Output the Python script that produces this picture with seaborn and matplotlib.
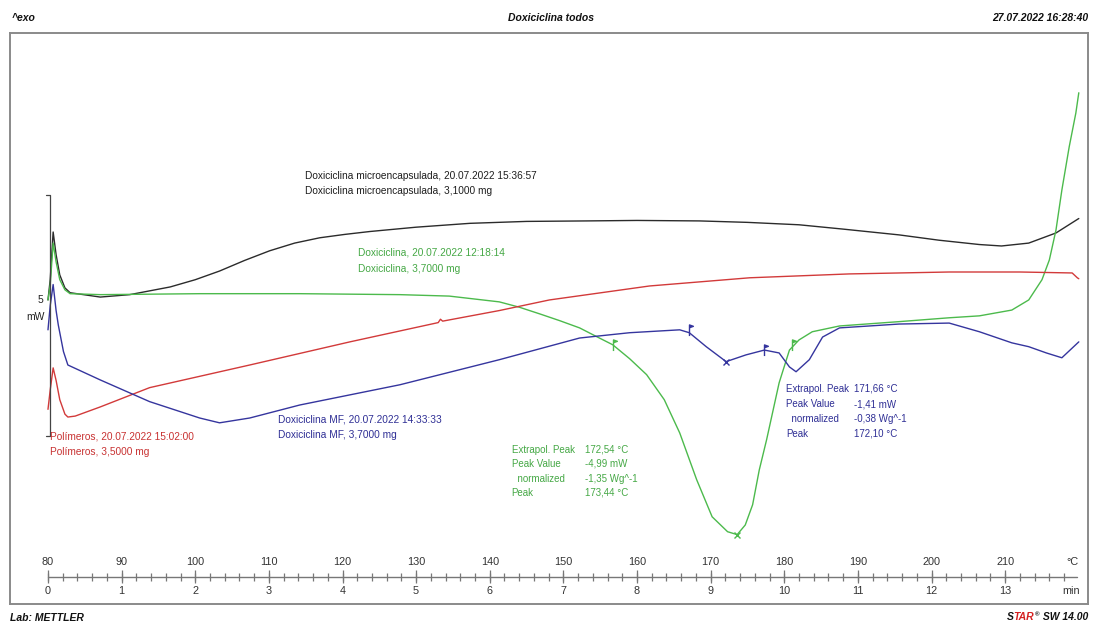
import numpy as np
import pandas as pd
import matplotlib
matplotlib.use("Agg")
import matplotlib.pyplot as plt
from matplotlib.path import Path
import seaborn as sns

sns.set_style("white")
plt.rcParams['font.family'] = ['Liberation Sans', 'DejaVu Sans']

# curvas DSC: temperatura (°C) y flujo de calor (mW, desplazado)
black_t = [80.0, 80.3, 80.7, 81.1, 81.6, 82.3, 83.0, 87.1, 91.1, 96.6, 100.0, 103.3, 106.7, 110.1,
           113.5, 116.9, 120.3, 123.7, 130.0, 137.3, 145.0, 153.1, 160.0, 168.5, 175.0, 182.0,
           188.0, 195.6, 201.0, 206.5, 209.5, 213.2, 216.9, 220.0]
black_hf = [2.82, 3.24, 4.23, 3.76, 3.34, 3.07, 2.97, 2.88, 2.93, 3.09, 3.24, 3.42, 3.64, 3.84,
            4.00, 4.11, 4.18, 4.24, 4.33, 4.41, 4.45, 4.46, 4.47, 4.46, 4.43, 4.38,
            4.29, 4.17, 4.06, 3.97, 3.94, 4.00, 4.21, 4.51]

green_t = [80.0, 80.3, 80.7, 81.1, 81.6, 82.3, 83.0, 87.1, 100.6, 114.2, 127.8, 134.5, 141.3, 144.0,
           146.8, 149.5, 152.2, 154.5, 156.7, 159.0, 161.3, 163.7, 165.8, 168.1, 170.2, 172.3,
           173.6, 174.7, 175.7, 176.6, 177.6, 179.3, 180.7, 182.0, 183.8, 187.5, 195.6, 202.4,
           206.5, 210.9, 213.2, 215.0, 216.0, 216.9, 217.7, 218.7, 219.6, 220.0]
green_hf = [2.82, 3.13, 4.00, 3.61, 3.24, 3.03, 2.95, 2.93, 2.95, 2.95, 2.93, 2.90, 2.78, 2.67,
            2.53, 2.39, 2.24, 2.06, 1.89, 1.60, 1.27, 0.75, 0.06, -0.91, -1.68, -1.99,
            -2.05, -1.85, -1.43, -0.71, -0.08, 1.10, 1.78, 1.99, 2.16, 2.28, 2.37, 2.45,
            2.49, 2.61, 2.82, 3.24, 3.65, 4.27, 5.10, 6.00, 6.70, 7.12]

red_t = [80.0, 80.3, 80.7, 81.1, 81.6, 82.3, 82.7, 83.7, 87.1, 93.8, 107.4, 121.0, 133.0, 133.3,
         133.6, 141.3, 148.1, 161.7, 175.3, 188.8, 202.4, 212.0, 219.1, 219.8, 220.0]
red_hf = [0.55, 0.95, 1.41, 1.15, 0.75, 0.45, 0.39, 0.41, 0.60, 1.00, 1.47, 1.95, 2.35, 2.42,
          2.38, 2.60, 2.82, 3.11, 3.28, 3.36, 3.40, 3.40, 3.38, 3.28, 3.26]

blue_t = [80.0, 80.3, 80.7, 81.1, 81.4, 82.1, 82.7, 87.1, 93.8, 100.6, 103.3, 107.4, 114.2, 127.8,
          141.3, 152.2, 159.0, 165.8, 167.1, 169.4, 172.1, 174.8, 177.3, 179.3, 180.7, 181.6,
          183.4, 185.2, 187.5, 195.6, 202.4, 206.5, 210.9, 213.2, 215.6, 217.7, 220.0]
blue_hf = [2.2, 2.7, 3.14, 2.6, 2.3, 1.75, 1.47, 1.16, 0.71, 0.37, 0.27, 0.37, 0.64, 1.06,
           1.58, 2.03, 2.14, 2.20, 2.14, 1.85, 1.54, 1.68, 1.78, 1.72, 1.43, 1.33,
           1.58, 2.05, 2.24, 2.32, 2.34, 2.16, 1.93, 1.85, 1.72, 1.62, 1.95]

# límites de integración (banderas) y picos (x)
green_flags_t = [156.7, 181.1]
green_flags_hf = [1.89, 1.89]
green_peak = (173.6, -2.05)
blue_flags_t = [167.1, 177.3]
blue_flags_hf = [2.20, 1.78]
blue_peak = (172.1, 1.54)

names = ["microencapsulada", "Doxiciclina", "Polimeros", "MF"]
colors = {"microencapsulada": "#2b2b2b", "Doxiciclina": "#4cba4c",
          "Polimeros": "#d23a3a", "MF": "#35359e"}
txt_green = "#45a845"
txt_blue = "#2f2f95"
txt_red = "#c83232"

frames = []
for n, t, hf in zip(names, [black_t, green_t, red_t, blue_t], [black_hf, green_hf, red_hf, blue_hf]):
    frames.append(pd.DataFrame({"T": t, "HF": hf, "curva": n}))
df = pd.concat(frames, ignore_index=True)

temp_ticks = list(range(80, 220, 10))
min_ticks = list(range(0, 14))

fig = plt.figure(figsize=(10.94, 6.26), dpi=100)
ax = fig.add_axes([10 / 1094, 1 - 604 / 626, 1078 / 1094, 571 / 626])

sns.lineplot(data=df, x="T", y="HF", hue="curva", palette=colors, estimator=None,
             sort=False, legend=False, lw=1.0, ax=ax)

# marcadores
flag = Path([(0, -1), (0, 1), (0.7, 0.75), (0, 0.5)],
            [Path.MOVETO, Path.LINETO, Path.LINETO, Path.LINETO])
ax.plot(green_flags_t, green_flags_hf, ls="none", marker=flag, ms=8, color=colors["Doxiciclina"], mew=1)
ax.plot(blue_flags_t, blue_flags_hf, ls="none", marker=flag, ms=8, color=colors["MF"], mew=1)
ax.plot(*green_peak, marker="x", ms=5, color=colors["Doxiciclina"], mew=1)
ax.plot(*blue_peak, marker="x", ms=5, color=colors["MF"], mew=1)

ax.set_xlim(74.84, 221.25)
ax.set_ylim(-3.49, 8.36)
ax.set_xticks([])
ax.set_yticks([])
ax.set_xlabel("")
ax.set_ylabel("")
for s in ax.spines.values():
    s.set_color("#8a8a8a")
    s.set_linewidth(1.4)

# barra de escala 5 mW
ax.plot([79.75, 80.27, 80.27, 79.75], [5, 5, 0, 0], color="#444444", lw=0.9)
ax.text(79.4, 2.82, "5", ha="right", va="center", fontsize=7.5, color="#222222")
ax.text(79.6, 2.47, "mW", ha="right", va="center", fontsize=7.5, color="#222222")

# eje de temperatura / tiempo
ax_y = -2.925
ax.plot([80, 219.8], [ax_y, ax_y], color="#777777", lw=1.0)
minor = np.arange(80, 220, 2)
ax.vlines(minor, ax_y - 0.083, ax_y + 0.083, color="#777777", lw=0.9)
ax.vlines(temp_ticks, ax_y - 0.135, ax_y + 0.135, color="#777777", lw=0.9)
for t, m in zip(temp_ticks, min_ticks):
    ax.text(t, -2.61, str(t), ha="center", va="center", fontsize=7.8, color="#333333")
    ax.text(t, -3.22, str(m), ha="center", va="center", fontsize=7.8, color="#333333")
ax.text(220.0, -2.61, "°C", ha="right", va="center", fontsize=7.8, color="#333333")
ax.text(220.2, -3.22, "min", ha="right", va="center", fontsize=7.8, color="#333333")

# etiquetas de curvas
fs = 7.3
ax.text(114.9, 5.39, "Doxiciclina microencapsulada, 20.07.2022 15:36:57", fontsize=fs, color="#1e1e1e", va="center")
ax.text(114.9, 5.08, "Doxiciclina microencapsulada, 3,1000 mg", fontsize=fs, color="#1e1e1e", va="center")
ax.text(122.1, 3.80, "Doxiciclina, 20.07.2022 12:18:14", fontsize=fs, color=txt_green, va="center")
ax.text(122.1, 3.46, "Doxiciclina, 3,7000 mg", fontsize=fs, color=txt_green, va="center")
ax.text(111.2, 0.33, "Doxiciclina MF, 20.07.2022 14:33:33", fontsize=fs, color=txt_blue, va="center")
ax.text(111.2, 0.02, "Doxiciclina MF, 3,7000 mg", fontsize=fs, color=txt_blue, va="center")
ax.text(80.3, -0.02, "Polímeros, 20.07.2022 15:02:00", fontsize=fs, color=txt_red, va="center")
ax.text(80.3, -0.33, "Polímeros, 3,5000 mg", fontsize=fs, color=txt_red, va="center")

fa = 7.0
green_lab = ["Extrapol. Peak", "Peak Value", "  normalized", "Peak"]
green_val = ["172,54 °C", "-4,99 mW", "-1,35 Wg^-1", "173,44 °C"]
blue_val = ["171,66 °C", "-1,41 mW", "-0,38 Wg^-1", "172,10 °C"]
for i, yy in enumerate([-0.29, -0.58, -0.89, -1.18]):
    ax.text(142.96, yy, green_lab[i], fontsize=fa, color=txt_green, va="center")
    ax.text(152.87, yy, green_val[i], fontsize=fa, color=txt_green, va="center")
for i, yy in enumerate([0.98, 0.66, 0.35, 0.04]):
    ax.text(180.28, yy, green_lab[i], fontsize=fa, color=txt_blue, va="center")
    ax.text(189.5, yy, blue_val[i], fontsize=fa, color=txt_blue, va="center")

# cabecera y pie
hdr = dict(fontsize=7.5, fontweight="bold", fontstyle="italic", color="#111111", va="center")
fig.text(12 / 1094, 1 - 18 / 626, "^exo", ha="left", **hdr)
fig.text(551 / 1094, 1 - 18 / 626, "Doxiciclina todos", ha="center", **hdr)
fig.text(1088 / 1094, 1 - 18 / 626, "27.07.2022 16:28:40", ha="right", **hdr)
fig.text(10 / 1094, 1 - 618 / 626, "Lab: METTLER", ha="left", **hdr)

ft = dict(fontsize=7.5, fontweight="bold", fontstyle="italic")
t1 = fig.text(1088 / 1094, 1 - 622 / 626, " SW 14.00", ha="right", va="bottom", color="#111111", **ft)
t2 = ax.annotate("®", xy=(0, 1), xycoords=t1, ha="right", va="top", fontsize=4.5,
                 fontweight="bold", color="#111111")
t3 = ax.annotate("TAR", xy=(0, 0), xycoords=t1, xytext=(-4, 0), textcoords="offset points",
                 ha="right", va="bottom", color="#d42020", **ft)
ax.annotate("S", xy=(0, 0), xycoords=t3, ha="right", va="bottom", color="#111111", **ft)

fig.savefig("out.png", dpi=100)
